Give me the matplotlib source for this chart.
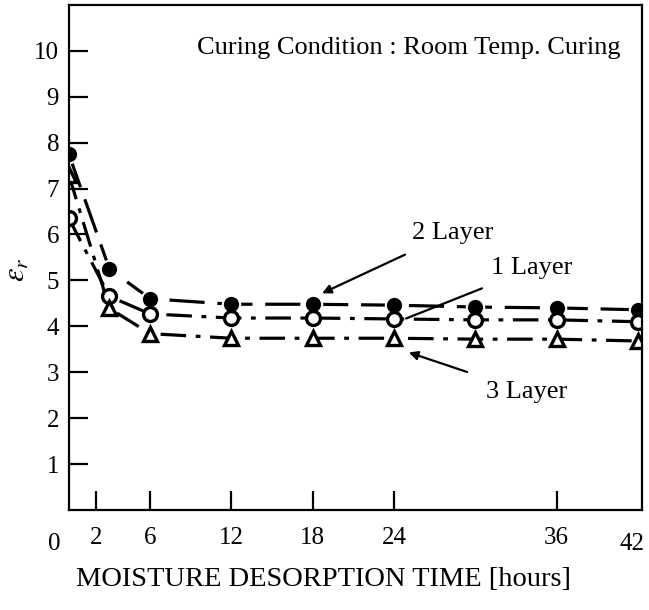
import matplotlib
matplotlib.use("Agg")
import matplotlib.pyplot as plt

plt.rcParams['font.family'] = ['Liberation Serif', 'DejaVu Serif']
plt.rcParams['mathtext.fontset'] = 'stix'

time_h = [0, 3, 6, 12, 18, 24, 30, 36, 42]
layer2 = [7.75, 5.25, 4.6, 4.48, 4.48, 4.46, 4.42, 4.40, 4.36]
layer1 = [6.35, 4.65, 4.27, 4.18, 4.18, 4.16, 4.14, 4.14, 4.10]
layer3 = [7.3, 4.39, 3.84, 3.74, 3.74, 3.74, 3.72, 3.72, 3.68]

xticks = [2, 6, 12, 18, 24, 36]
xtick_labels = ['2', '6', '12', '18', '24', '36']
yticks = [1, 2, 3, 4, 5, 6, 7, 8, 9, 10]

fig = plt.figure(figsize=(6.49, 6.10), dpi=100)
ax = fig.add_axes([0.106, 0.164, 0.883, 0.828])

ax.plot(time_h, layer2, color='black', lw=2.3, dashes=(11, 4))
ax.plot(time_h, layer1, color='black', lw=2.3, dashes=(8, 3, 1.5, 3))
ax.plot(time_h, layer3, color='black', lw=2.3, dashes=(8, 3, 1.5, 3))

ax.plot(time_h, layer2, 'o', color='black', ms=12.5, mec='white', mew=1.5, ls='none')
ax.plot(time_h, layer1, 'o', mfc='white', mec='black', ms=10, mew=2.4, ls='none')
ax.plot(time_h, layer3, '^', mfc='white', mec='black', ms=9.5, mew=2.4, ls='none')

ax.set_xlim(0, 42.3)
ax.set_ylim(0, 11)
ax.set_xticks(xticks)
ax.set_xticklabels(xtick_labels)
ax.set_yticks(yticks)
ax.set_yticklabels([str(v) for v in yticks])
ax.tick_params(direction='in', length=14, width=1.6, labelsize=18, pad=12)
ax.tick_params(axis='y', pad=7)
for s in ax.spines.values():
    s.set_linewidth(1.6)

# corner labels for 0 and 42 on x-axis
ax.text(-1.1, -0.75, '0', ha='center', va='center', fontsize=18)
ax.text(41.6, -0.75, '42', ha='center', va='center', fontsize=18)

ax.text(0.962, 0.915, 'Curing Condition : Room Temp. Curing', transform=ax.transAxes,
        ha='right', va='center', fontsize=19)

ax.annotate('2 Layer', xy=(18.7, 4.72), xytext=(25.3, 6.04), fontsize=19,
            ha='left', va='center',
            arrowprops=dict(arrowstyle='-|>', color='black', lw=1.6,
                            shrinkA=14, shrinkB=0, mutation_scale=13))
ax.annotate('1 Layer', xy=(24.9, 4.17), xytext=(31.2, 5.26), fontsize=19,
            ha='left', va='center',
            arrowprops=dict(arrowstyle='-', color='black', lw=1.6,
                            shrinkA=12, shrinkB=0))
ax.annotate('3 Layer', xy=(25.1, 3.43), xytext=(30.8, 2.57), fontsize=19,
            ha='left', va='center',
            arrowprops=dict(arrowstyle='-|>', color='black', lw=1.6,
                            shrinkA=14, shrinkB=0, mutation_scale=13))

fig.text(17/649, 1 - 270/610, r'$\varepsilon_r$', rotation=90, ha='center', va='center', fontsize=22)
fig.text(323/649, 1 - 580/610, 'MOISTURE DESORPTION TIME [hours]', ha='center', va='center', fontsize=20.5)

fig.savefig('out.png', dpi=100)
